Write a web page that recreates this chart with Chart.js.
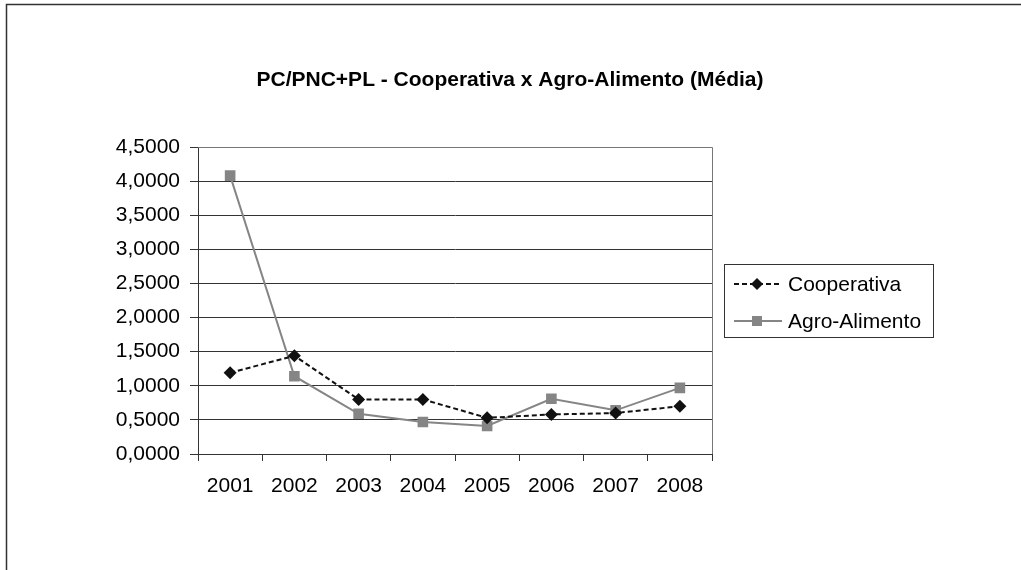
<!DOCTYPE html>
<html>
<head>
<meta charset="utf-8">
<script src="https://cdn.jsdelivr.net/npm/chart.js@4"></script>
<style>
  html, body { margin: 0; padding: 0; background: #fff; }
  #wrap { position: relative; width: 1021px; height: 570px; }
</style>
</head>
<body>
<div id="wrap"><canvas id="chart" width="1021" height="570"></canvas></div>
<script>
var years = ['2001', '2002', '2003', '2004', '2005', '2006', '2007', '2008'];
var cooperativa = [1.19, 1.44, 0.80, 0.80, 0.53, 0.58, 0.60, 0.70];
var agroAlimento = [4.08, 1.14, 0.59, 0.47, 0.41, 0.81, 0.64, 0.97];
var titleText = 'PC/PNC+PL - Cooperativa x Agro-Alimento (Média)';
var yMax = 4.5, yStep = 0.5;
var fontFam = '"Liberation Sans", Arial, sans-serif';

// frame, title, plot box and boxed legend
var decor = {
  id: 'decor',
  beforeDraw: function(chart) {
    var c = chart.ctx;
    c.save();
    c.fillStyle = '#fff';
    c.fillRect(0, 0, chart.width, chart.height);
    c.strokeStyle = '#333';
    c.lineWidth = 1.5;
    c.strokeRect(6.5, 4.5, 1100, 700);
    c.restore();
  },
  afterDraw: function(chart) {
    var c = chart.ctx, a = chart.chartArea;
    c.save();
    c.fillStyle = '#000';
    c.font = 'bold 21px ' + fontFam;
    c.textAlign = 'center';
    c.textBaseline = 'middle';
    c.fillText(titleText, 510, 80);

    c.strokeStyle = '#777';
    c.lineWidth = 1;
    c.beginPath();
    c.moveTo(a.left, a.top + 0.5);
    c.lineTo(Math.round(a.right) + 0.5, a.top + 0.5);
    c.lineTo(Math.round(a.right) + 0.5, a.bottom);
    c.stroke();

    // legend
    c.strokeStyle = '#333';
    c.strokeRect(724.5, 264.5, 209, 73);
    c.font = '21px ' + fontFam;
    c.textAlign = 'left';
    chart.data.datasets.forEach(function(ds, i) {
      var y = 284 + i * 37;
      c.strokeStyle = ds.borderColor;
      c.lineWidth = 2;
      c.setLineDash(ds.borderDash || []);
      c.beginPath();
      c.moveTo(734, y);
      c.lineTo(782, y);
      c.stroke();
      c.setLineDash([]);
      c.fillStyle = ds.backgroundColor;
      if (ds.pointStyle === 'rectRot') {
        c.beginPath();
        c.moveTo(757, y - 6); c.lineTo(763, y); c.lineTo(757, y + 6); c.lineTo(751, y);
        c.closePath(); c.fill();
      } else {
        c.fillRect(752, y - 5, 10, 10);
      }
      c.fillStyle = '#000';
      c.fillText(ds.label, 788, y + 1);
    });
    c.restore();
  }
};

new Chart(document.getElementById('chart'), {
  type: 'line',
  data: {
    labels: years,
    datasets: [{
      label: 'Cooperativa',
      data: cooperativa,
      borderColor: '#111',
      backgroundColor: '#111',
      borderWidth: 2,
      borderDash: [5, 3],
      pointStyle: 'rectRot',
      pointRadius: 6.5,
      pointBorderWidth: 0,
      tension: 0
    }, {
      label: 'Agro-Alimento',
      data: agroAlimento,
      borderColor: '#858585',
      backgroundColor: '#858585',
      borderWidth: 2,
      pointStyle: 'rect',
      pointRadius: 7.5,
      pointBorderWidth: 0,
      tension: 0
    }]
  },
  options: {
    responsive: false,
    animation: false,
    layout: { padding: { left: 0, top: 147, right: 309, bottom: 76 } },
    plugins: { legend: { display: false }, title: { display: false }, tooltip: { enabled: false } },
    scales: {
      x: {
        offset: true,
        grid: { offset: true, drawOnChartArea: false, drawTicks: true, tickLength: 7, color: '#333' },
        border: { color: '#333', width: 1 },
        ticks: { color: '#000', font: { family: fontFam, size: 21 }, padding: 13, maxRotation: 0 },
        afterFit: function(s) { s.height = 40; }
      },
      y: {
        min: 0,
        max: yMax,
        grid: { color: '#333', tickLength: 8, drawTicks: true },
        border: { color: '#333', width: 1 },
        ticks: {
          stepSize: yStep,
          color: '#000',
          padding: 10,
          font: { family: fontFam, size: 21 },
          callback: function(v) { return v.toFixed(4).replace('.', ','); }
        },
        afterFit: function(s) { s.width = 198; }
      }
    }
  },
  plugins: [decor]
});
</script>
</body>
</html>
